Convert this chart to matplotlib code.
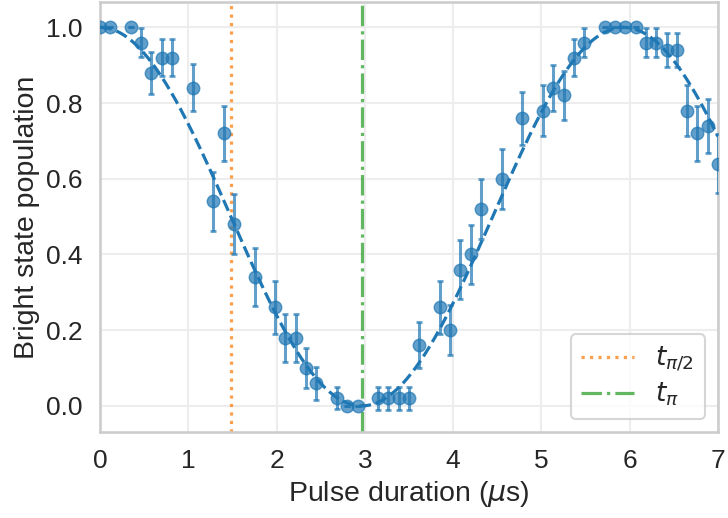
import numpy as np
import matplotlib
matplotlib.use("Agg")
import matplotlib.pyplot as plt
import seaborn as sns

sns.set_theme(style="whitegrid", context="talk")
plt.rcParams['font.family'] = ['Liberation Sans', 'DejaVu Sans']

# measured pulse durations (us), bright-state population and error bars
t_data = [0.0, 0.117, 0.35, 0.467, 0.583, 0.7, 0.817, 1.05, 1.283, 1.4,
          1.517, 1.75, 1.983, 2.1, 2.217, 2.333, 2.45, 2.683, 2.8, 2.917,
          3.15, 3.267, 3.383, 3.5, 3.617, 3.85, 3.967, 4.083, 4.2, 4.317,
          4.55, 4.783, 5.017, 5.133, 5.25, 5.367, 5.483, 5.717, 5.833, 5.95,
          6.067, 6.183, 6.3, 6.417, 6.533, 6.65, 6.767, 6.883, 7.0]
pop = [1.0, 1.0, 1.0, 0.96, 0.88, 0.92, 0.92, 0.84, 0.54, 0.72,
       0.48, 0.34, 0.26, 0.18, 0.18, 0.10, 0.06, 0.02, 0.0, 0.0,
       0.02, 0.02, 0.02, 0.02, 0.16, 0.26, 0.20, 0.36, 0.40, 0.52,
       0.60, 0.76, 0.78, 0.84, 0.82, 0.92, 0.96, 1.0, 1.0, 1.0,
       1.0, 0.96, 0.96, 0.94, 0.94, 0.78, 0.72, 0.74, 0.64]
err = [0.0, 0.0, 0.0, 0.037, 0.056, 0.049, 0.049, 0.062, 0.079, 0.073,
       0.079, 0.076, 0.071, 0.064, 0.064, 0.052, 0.044, 0.029, 0.0, 0.0,
       0.031, 0.031, 0.031, 0.031, 0.061, 0.071, 0.066, 0.077, 0.078, 0.079,
       0.079, 0.070, 0.0675, 0.061, 0.0635, 0.048, 0.037, 0.0, 0.0, 0.0,
       0.0, 0.037, 0.037, 0.044, 0.044, 0.0675, 0.073, 0.072, 0.077]

# fitted pi time (us)
t_pi = 2.965

blue, orange, green = '#1f77b4', '#ff7f0e', '#2ca02c'

fig = plt.figure(figsize=(7.28, 5.18), dpi=100)
ax = fig.add_axes([100/728, 1 - 432/518, 618/728, 430/518])

ax.errorbar(t_data, pop, yerr=err, fmt='o', color=blue, alpha=0.7,
            markersize=9, elinewidth=2.2, capsize=2.5, capthick=2, zorder=3)

t_fit = np.linspace(0, 7, 400)
ax.plot(t_fit, np.cos(np.pi * t_fit / (2 * t_pi))**2, '--', color=blue, lw=2.3, zorder=4)

ax.axvline(t_pi / 2, color=orange, ls=':', lw=2.3, alpha=0.75, label=r'$t_{\pi/2}$')
ax.axvline(t_pi, color=green, ls='-.', lw=2.3, alpha=0.75, label=r'$t_{\pi}$')

ax.set_xlim(0, 7)
ax.set_ylim(-0.069, 1.067)
ax.set_xticks(range(8))
ax.tick_params(labelsize=19)
ax.grid(color='#ededed')
for s in ax.spines.values():
    s.set_color('#cccccc')

ax.set_xlabel(r'Pulse duration ($\mu$s)', fontsize=20.5, labelpad=4)
ax.set_ylabel('Bright state population', fontsize=20.5)
ax.legend(loc='lower right', fontsize=19, labelspacing=0.25)

fig.savefig('out.png', dpi=100)
